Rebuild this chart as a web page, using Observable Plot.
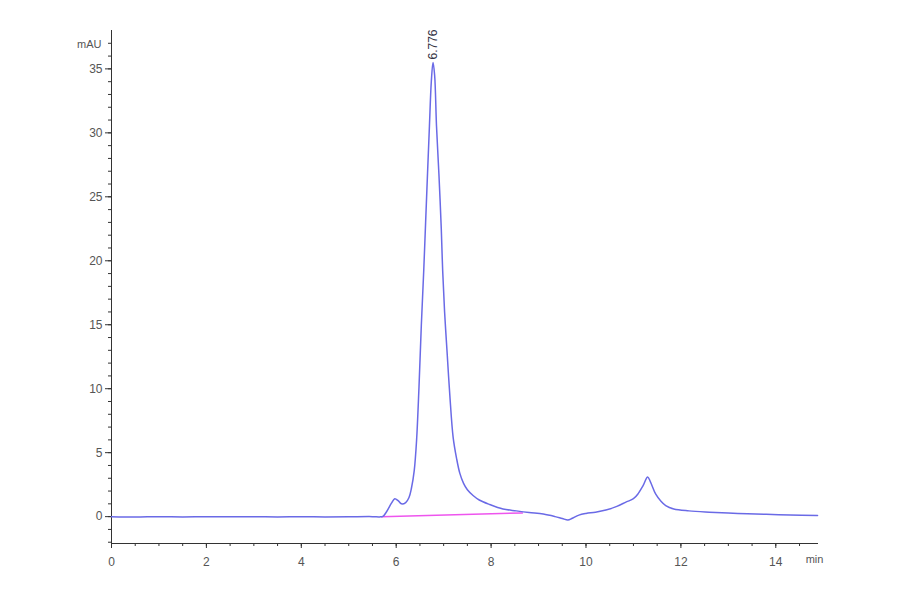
<!DOCTYPE html>
<html>
<head>
<meta charset="utf-8">
<script src="https://cdn.jsdelivr.net/npm/d3@7"></script>
<script src="https://cdn.jsdelivr.net/npm/@observablehq/plot@0.6"></script>
<style>
  html, body { margin: 0; padding: 0; background: #fff; }
  #chart svg { display: block; }
</style>
</head>
<body>
<div id="chart"></div>
<script>
// Retention time (min) and absorbance (mAU)
const time = [0, 0.5, 1, 1.5, 2, 2.5, 3, 3.5, 4, 4.5, 5, 5.5, 5.65, 5.72, 5.8, 5.9, 5.97, 6.04, 6.11, 6.2, 6.27, 6.32, 6.38, 6.43, 6.48, 6.53, 6.58, 6.62, 6.66, 6.70, 6.74, 6.776, 6.81, 6.85, 6.90, 6.95, 6.98, 7.02, 7.07, 7.13, 7.20, 7.27, 7.34, 7.42, 7.50, 7.62, 7.75, 7.97, 8.25, 8.53, 8.8, 9.1, 9.35, 9.5, 9.62, 9.7, 9.85, 10.0, 10.2, 10.42, 10.65, 10.85, 11.0, 11.1, 11.2, 11.3, 11.36, 11.47, 11.58, 11.68, 11.85, 12.17, 12.6, 13.2, 13.8, 14.3, 14.88];
const signal = [0, -0.03, 0, -0.02, 0, -0.01, 0, -0.02, 0, -0.02, -0.01, 0, -0.02, 0.02, 0.4, 1.05, 1.4, 1.25, 1.0, 1.1, 1.5, 2.2, 3.6, 6.0, 10.1, 15.0, 19.2, 23.0, 26.8, 30.5, 34.0, 35.5, 34.5, 30.5, 26.8, 22.5, 19.2, 16.0, 13.0, 9.5, 6.2, 4.6, 3.4, 2.6, 2.1, 1.65, 1.3, 0.95, 0.6, 0.45, 0.32, 0.2, 0.0, -0.15, -0.26, -0.15, 0.12, 0.25, 0.35, 0.52, 0.8, 1.15, 1.4, 1.8, 2.4, 3.1, 2.7, 1.75, 1.2, 0.86, 0.6, 0.45, 0.35, 0.25, 0.18, 0.12, 0.08];
// Integration baseline of the main peak
const baseTime = [5.69, 8.66];
const baseSignal = [0, 0.29];
// Peak label
const peakTime = [6.776];
const peakHeight = [35.5];
const peakLabel = ["6.776"];
// Ticks
const xMajor = [0, 2, 4, 6, 8, 10, 12, 14];
const xMinor = d3.range(0, 15, 0.5);
const yMajor = [0, 5, 10, 15, 20, 25, 30, 35];
const yMinor = d3.range(-2, 38, 1);

const trace = time.map((t, i) => ({t, v: signal[i]}));
const baseline = baseTime.map((t, i) => ({t, v: baseSignal[i]}));
const peaks = peakTime.map((t, i) => ({t, v: peakHeight[i], label: peakLabel[i]}));

const axisColor = "#333";
const labelColor = "#555";

const chart = Plot.plot({
  width: 900,
  height: 594,
  marginLeft: 111,
  marginRight: 82,
  marginTop: 30,
  marginBottom: 51,
  style: {fontFamily: "Liberation Sans, Arial, sans-serif", fontSize: "12px", background: "#fff"},
  x: {domain: [0, 14.9], label: null},
  y: {domain: [-2.1, 38], label: null},
  marks: [
    Plot.axisX({ticks: xMinor, tickSize: 3, text: null, stroke: axisColor}),
    Plot.axisX({ticks: xMajor, tickSize: 5, tickPadding: 9, stroke: axisColor, fill: labelColor, fontSize: 12}),
    Plot.axisY({ticks: yMinor, tickSize: 3, text: null, stroke: axisColor}),
    Plot.axisY({ticks: yMajor, tickSize: 6, tickPadding: 3, stroke: axisColor, fill: labelColor, fontSize: 12}),
    Plot.ruleX([0], {stroke: axisColor}),
    Plot.ruleY([-2.1], {stroke: axisColor}),
    Plot.line(baseline, {x: "t", y: "v", stroke: "#ee55ee", strokeWidth: 1.5}),
    Plot.line(trace, {x: "t", y: "v", stroke: "#6a6ae6", strokeWidth: 1.5, curve: "catmull-rom"}),
    Plot.text(peaks, {x: "t", y: "v", text: "label", rotate: -90, textAnchor: "start", dy: -3, fill: "#334", fontSize: 12}),
    Plot.text(["mAU"], {frameAnchor: "top-left", dx: -10, dy: 10, textAnchor: "end", fill: labelColor, fontSize: 11}),
    Plot.text(["min"], {frameAnchor: "bottom-right", dx: -4, dy: 19, textAnchor: "middle", fill: labelColor, fontSize: 11})
  ]
});
document.getElementById("chart").appendChild(chart);
</script>
</body>
</html>
